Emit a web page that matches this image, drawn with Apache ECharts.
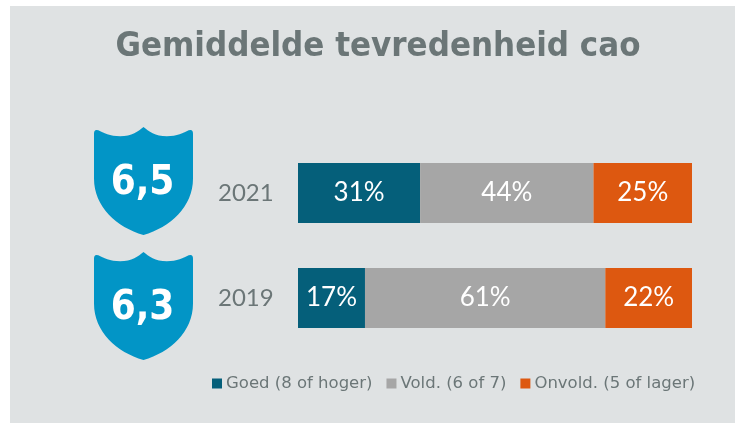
<!DOCTYPE html>
<html>
<head>
<meta charset="utf-8">
<script src="https://cdn.jsdelivr.net/npm/echarts@6/dist/echarts.min.js"></script>
<style>
html, body { margin: 0; padding: 0; background: #fff; }
#chart { width: 735px; height: 423px; }
</style>
</head>
<body>
<div id="chart"></div>
<script>
const years = ['2021', '2019']
const scores = ['6,5', '6,3']
const goed = [31, 17]
const vold = [44, 61]
const onvold = [25, 22]
const seriesNames = ['Goed (8 of hoger)', 'Vold. (6 of 7)', 'Onvold. (5 of lager)']

const LIGHT = 'Lato'
const COND = '"DejaVu Sans Condensed", "DejaVu Sans"'
const TEXT = '#6b7677'
const shield = 'path://M430 50C415 62 395 78 360 78C330 78 310 68 295 60Q282 55 282 70L282 205C282 290 350 352 430 375C510 352 578 290 578 205L578 70Q578 55 565 60C550 68 530 78 500 78C465 78 445 62 430 50Z'

function barSeries(name, data, color) {
  return {
    name: name,
    type: 'bar',
    stack: 'total',
    data: data,
    barWidth: 60,
    itemStyle: { color: color },
    label: {
      show: true,
      position: 'inside',
      formatter: '{c}%',
      color: '#fff',
      fontFamily: LIGHT,
      fontSize: 26
    }
  }
}

const chart = echarts.init(document.getElementById('chart'))
chart.setOption({
  backgroundColor: '#fff',
  animation: false,
  title: {
    text: 'Gemiddelde tevredenheid cao',
    left: 373,
    top: 25,
    textAlign: 'center',
    textStyle: { color: TEXT, fontFamily: COND, fontWeight: 'bold', fontSize: 34.5 }
  },
  legend: {
    data: seriesNames,
    left: 207,
    top: 370,
    itemWidth: 10,
    itemHeight: 10,
    itemGap: 14,
    itemStyle: { borderWidth: 0 },
    icon: 'rect',
    textStyle: { color: TEXT, fontFamily: '"DejaVu Sans"', fontSize: 16.5, padding: [0, 0, 0, -1] }
  },
  graphic: [
    { type: 'rect', z: -10, shape: { x: 10, y: 6, width: 725, height: 417 }, style: { fill: '#dfe2e3' } }
  ],
  grid: [
    { left: 298, top: 140.5, width: 394, height: 210 },
    { left: 94, top: 140.5, width: 99, height: 210 }
  ],
  xAxis: [
    { type: 'value', min: 0, max: 100, show: false },
    { type: 'category', gridIndex: 1, data: ['cijfer'], show: false }
  ],
  yAxis: [
    {
      type: 'category',
      data: years,
      inverse: true,
      axisLine: { show: false },
      axisTick: { show: false },
      axisLabel: { color: TEXT, fontFamily: LIGHT, fontSize: 24, margin: 80, align: 'left' }
    },
    { type: 'category', gridIndex: 1, data: years, inverse: true, show: false }
  ],
  series: [
    barSeries(seriesNames[0], goed, '#055f7a'),
    barSeries(seriesNames[1], vold, '#a6a6a6'),
    barSeries(seriesNames[2], onvold, '#dd5810'),
    {
      type: 'scatter',
      xAxisIndex: 1,
      yAxisIndex: 1,
      symbol: shield,
      symbolKeepAspect: false,
      symbolSize: [99, 108],
      data: scores.map((s, i) => ({
        value: [0, i],
        score: s,
        // the shields do not sit exactly on the bar rows
        symbolOffset: [0, i === 0 ? -12 : 8]
      })),
      itemStyle: { color: '#0295c6', opacity: 1 },
      label: {
        show: true,
        position: 'inside',
        offset: [-1, 3],
        formatter: p => p.data.score,
        color: '#fff',
        fontFamily: COND,
        fontWeight: 'bold',
        fontSize: 40
      }
    }
  ]
})
</script>
</body>
</html>
